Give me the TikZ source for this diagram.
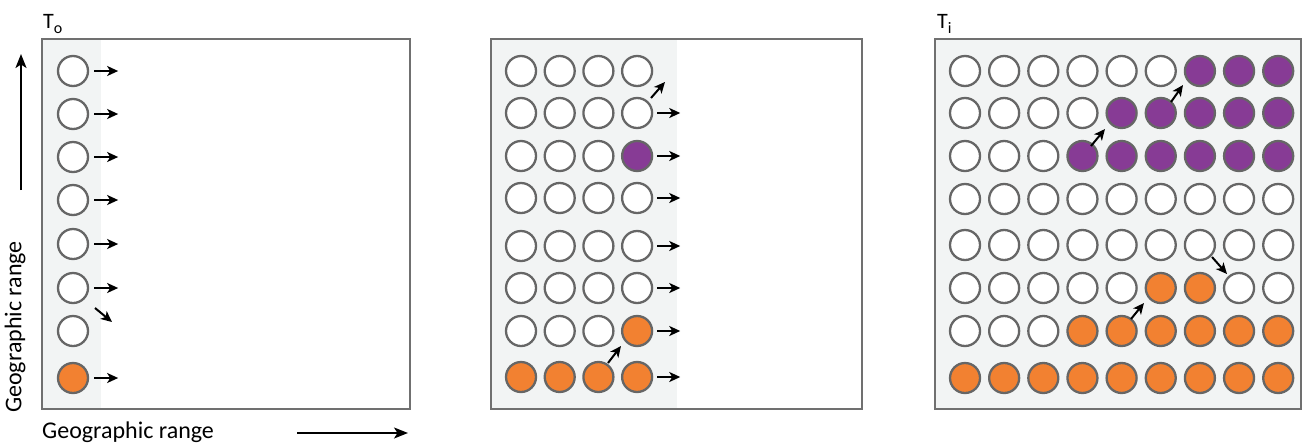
\documentclass[tikz,border=0pt]{standalone}
\usepackage{fontspec}
\setmainfont{Carlito}
\usetikzlibrary{arrows.meta}
\definecolor{orng}{HTML}{F28131}
\definecolor{purp}{HTML}{873B95}
\definecolor{ring}{HTML}{666666}
\definecolor{bgshade}{HTML}{F2F4F4}
\definecolor{framec}{HTML}{707070}
\begin{document}
\begin{tikzpicture}[x=1pt,y=-1pt,
  dot/.style={circle, draw=ring, line width=2.3pt, minimum size=30pt, inner sep=0pt},
  w/.style={fill=white}, o/.style={fill=orng}, p/.style={fill=purp},
  panel/.style={draw=framec, line width=2pt},
  mv/.style={line width=2pt, -{Stealth[length=11pt,width=10pt,inset=3pt]}},
  axis/.style={line width=1.6pt, -{Stealth[length=14pt,width=11pt,inset=3.5pt]}},
  lbl/.style={font=\fontsize{24}{26}\selectfont, inner sep=0pt},
  tlbl/.style={font=\fontsize{22}{24}\selectfont, inner sep=0pt, anchor=west}]
\useasboundingbox (0,0) rectangle (1303,445);
% panels
\fill[white] (42,39) rectangle (410,409);
\fill[bgshade] (42,39) rectangle (101,409);
\draw[panel] (42,39) rectangle (410,409);
\fill[white] (491,39) rectangle (862,409);
\fill[bgshade] (491,39) rectangle (677,409);
\draw[panel] (491,39) rectangle (862,409);
\fill[bgshade] (935,39) rectangle (1301,409);
\draw[panel] (935,39) rectangle (1301,409);
% labels
\node[tlbl] (to) at (43,24) {T\raisebox{-0.4ex}{\fontsize{16}{18}\selectfont o}};
\node[tlbl] (ti) at (937,24) {T\raisebox{-0.4ex}{\fontsize{16}{18}\selectfont i}};
\node[lbl, anchor=west] (xl) at (42,432) {Geographic range};
\node[lbl, rotate=90] (yl) at (15,327) {Geographic range};
\coordinate (xa0) at (297,433); \coordinate (xa1) at (408,433);
\draw[axis] (xa0) -- (xa1);
\coordinate (ya0) at (21,190); \coordinate (ya1) at (21,54);
\draw[axis] (ya0) -- (ya1);
% panel 1
\foreach \r/\yy/\f in {1/71/w,2/114/w,3/157/w,4/200/w,5/244/w,6/288/w,7/331/w,8/378/o}
  \node[dot,\f] (a-\r) at (73,\yy) {};
\foreach \r in {1,2,3,4,5,6,8}{
  \coordinate (ah0-\r) at ([xshift=5pt]a-\r.east);
  \coordinate (ah1-\r) at ([xshift=29pt]a-\r.east);
  \draw[mv] (ah0-\r) -- (ah1-\r);}
\coordinate (ad0) at (95,308); \coordinate (ad1) at (112,322);
\draw[mv] (ad0) -- (ad1);
% panel 2
\foreach \r/\yy/\pat in {1/71/{w,w,w,w},2/113/{w,w,w,w},3/156/{w,w,w,p},4/198/{w,w,w,w},
   5/246/{w,w,w,w},6/288/{w,w,w,w},7/331/{w,w,w,o},8/377/{o,o,o,o}}
  \foreach \f [count=\c] in \pat
    \node[dot,\f] (b-\r-\c) at ({521+38.7*(\c-1)},\yy) {};
\foreach \r in {2,3,4,5,6,7,8}{
  \coordinate (bh0-\r) at ([xshift=4pt]b-\r-4.east);
  \coordinate (bh1-\r) at ([xshift=27pt]b-\r-4.east);
  \draw[mv] (bh0-\r) -- (bh1-\r);}
\coordinate (bd0) at (651,98); \coordinate (bd1) at (665,82);
\draw[mv] (bd0) -- (bd1);
\coordinate (bd2) at (608,363); \coordinate (bd3) at (621,346);
\draw[mv] (bd2) -- (bd3);
% panel 3
\foreach \r/\yy/\pat in {1/71/{w,w,w,w,w,w,p,p,p},2/113/{w,w,w,w,p,p,p,p,p},3/156/{w,w,w,p,p,p,p,p,p},
   4/199/{w,w,w,w,w,w,w,w,w},5/245/{w,w,w,w,w,w,w,w,w},6/288/{w,w,w,w,w,o,o,w,w},
   7/331/{w,w,w,o,o,o,o,o,o},8/378/{o,o,o,o,o,o,o,o,o}}
  \foreach \f [count=\c] in \pat
    \node[dot,\f] (c-\r-\c) at ({965+39.15*(\c-1)},\yy) {};
\coordinate (cd0) at (1091,146); \coordinate (cd1) at (1105,129);
\draw[mv] (cd0) -- (cd1);
\coordinate (cd2) at (1171,102); \coordinate (cd3) at (1183,85);
\draw[mv] (cd2) -- (cd3);
\coordinate (cd4) at (1212,257); \coordinate (cd5) at (1227,274);
\draw[mv] (cd4) -- (cd5);
\coordinate (cd6) at (1131,319); \coordinate (cd7) at (1144,303);
\draw[mv] (cd6) -- (cd7);
\end{tikzpicture}
\end{document}
